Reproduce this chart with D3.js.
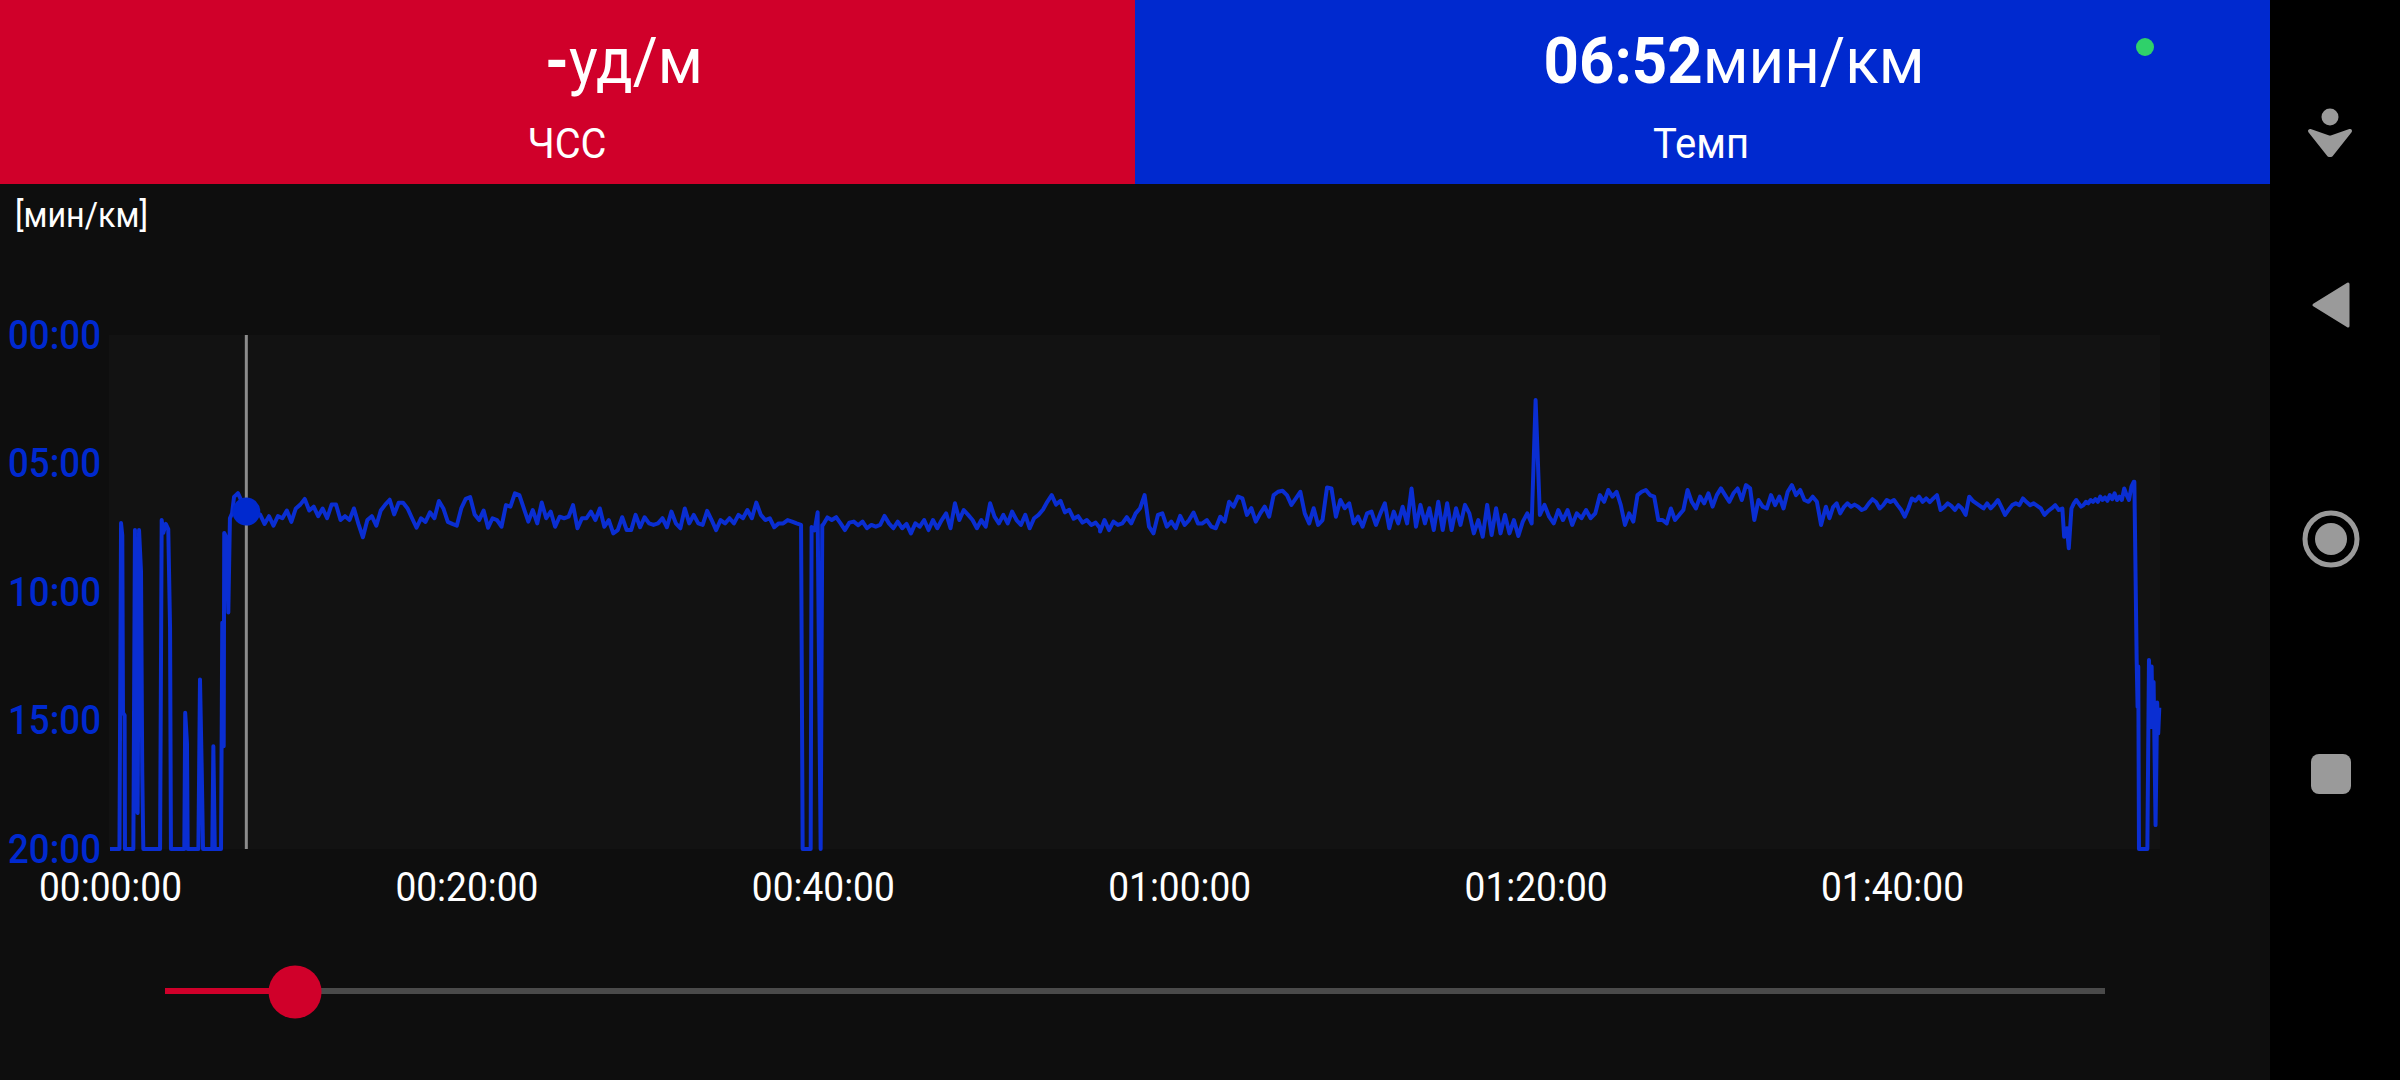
<!DOCTYPE html>
<html>
<head>
<meta charset="utf-8">
<title>Темп</title>
<script src="https://cdn.jsdelivr.net/npm/d3@7"></script>
<style>
  html, body { margin: 0; padding: 0; background: #000; }
  svg { display: block; font-family: Roboto, sans-serif; }
</style>
</head>
<body>
<div id="chart"></div>
<script>
// tick values and labels
const timeTicks = [0, 20, 40, 60, 80, 100];
const timeLabels = ["00:00:00", "00:20:00", "00:40:00", "01:00:00", "01:20:00", "01:40:00"];
const paceTicks = [0, 5, 10, 15, 20];
const paceLabels = ["00:00", "05:00", "10:00", "15:00", "20:00"];

// current position of the player, minutes into the run / pace in min per km
const cursorTime = 7.65;
const cursorPace = 6.87;

// irregular parts of the trace: time in minutes, pace in min/km
const warmupTimes = [0, 0.53, 0.62, 0.69, 0.73, 0.82, 0.84, 1.31, 1.40, 1.46, 1.55, 1.63, 1.74, 1.81, 1.87, 2.81, 2.90, 2.99, 3.13, 3.27, 3.37, 3.42, 4.17, 4.22, 4.32, 4.36, 4.96, 5.05, 5.15, 5.22, 5.74, 5.80, 5.88, 6.23, 6.30, 6.38, 6.41, 6.55, 6.64, 6.73, 6.85, 6.96, 7.18, 7.41, 7.63, 7.86, 8.14];
const warmupPace = [20, 20, 7.32, 7.8, 14.7, 14.8, 20, 20, 7.59, 18.4, 18.6, 7.59, 9.2, 17.0, 20, 20, 7.2, 7.7, 7.35, 7.55, 11.4, 20, 20, 14.7, 15.9, 20, 20, 13.4, 17.0, 20, 20, 16.0, 20, 20, 11.2, 16.0, 7.7, 7.9, 10.8, 7.13, 6.94, 6.3, 6.15, 6.5, 6.87, 6.9, 7.0];

const gapTimes = [38.87, 39.32, 39.37, 39.54, 39.71, 39.88, 39.97];
const gapPace = [20, 20, 7.47, 7.6, 6.9, 20, 7.4];

const spikeTimes = [80.0];
const spikePace = [2.53];

const dipTimes = [109.66, 109.82, 109.92];
const dipPace = [7.85, 7.52, 8.30];

const finishTimes = [113.6, 113.73, 113.78, 113.82, 113.86, 114.33, 114.42, 114.51, 114.57, 114.62, 114.68, 114.79, 114.88, 114.94, 115.0];
const finishPace = [5.71, 12.65, 14.47, 12.9, 20, 20, 12.65, 15.25, 12.9, 15.25, 13.5, 19.07, 14.3, 15.5, 14.5];

// steady legs left to right at about one sample per 15 s
const legATimes = [8.42, 38.78];
const legA = [6.98, 7.35, 7.05, 7.42, 7.05, 7.13, 6.83, 7.27, 6.75, 6.60, 6.38, 6.83, 6.68, 7.05, 6.75, 7.13, 6.60, 6.60, 7.20, 7.05, 7.20, 6.75, 7.35, 7.87, 7.20, 7.05, 7.42, 6.83, 6.60, 6.41, 6.98, 6.53, 6.53, 6.75, 7.13, 7.50, 7.13, 7.27, 6.90, 7.13, 6.46, 6.75, 7.27, 7.35, 7.42, 6.75, 6.38, 6.31, 6.98, 7.20, 6.83, 7.50, 7.13, 7.20,
  7.46, 6.62, 6.68, 6.16, 6.23, 6.75, 7.26, 6.81, 7.33, 6.52, 7.13, 6.87, 7.46, 7.07, 7.13, 7.07, 6.62, 7.52, 7.13, 7.13, 6.87, 7.20, 6.75, 7.46, 7.20, 7.72, 7.59, 7.09, 7.59, 7.59, 7.00, 7.48, 7.09, 7.33, 7.39, 7.33, 7.13, 7.48, 6.87, 7.33, 7.52, 6.75, 7.33, 7.00, 7.33, 7.39, 6.84, 7.20, 7.59, 7.20, 7.33, 7.13, 7.33, 7.00, 7.13, 6.81, 7.13, 6.52, 7.00, 7.20, 7.13, 7.48, 7.33, 7.33, 7.20, 7.26, 7.33, 7.39];

const legBTimes = [40.01, 55.56];
const legB = [7.39, 7.10, 7.20, 7.09, 7.33, 7.59, 7.30, 7.26, 7.40, 7.26, 7.52, 7.39, 7.46, 7.39, 7.04, 7.33, 7.52, 7.26, 7.52, 7.35, 7.72, 7.33, 7.46, 7.20, 7.59, 7.20, 7.52, 7.20, 6.94, 7.52, 6.55, 7.20, 6.81, 7.00, 7.20, 7.52, 7.20, 7.46, 6.55, 7.07, 7.33, 7.00, 7.33, 6.87, 7.20, 7.39, 7.00, 7.52, 7.13, 7.00, 6.80, 6.49, 6.23, 6.60, 6.45, 6.90, 6.80, 7.15, 7.05, 7.30, 7.20, 7.39, 7.30, 7.52];

const legCTimes = [55.56, 79.78];
const legC = [7.65, 7.20, 7.59, 7.26, 7.39, 7.33, 7.09, 7.33, 6.94, 6.74, 6.23, 7.46, 7.72, 7.00, 6.94, 7.46, 7.26, 7.52, 7.04, 7.39, 7.20, 6.91, 7.33, 7.33, 7.20, 7.46, 7.52, 7.07, 7.26, 6.49, 6.68, 6.29, 6.36, 7.00, 6.74, 7.26, 6.94, 6.68, 7.07, 6.23, 6.10, 6.06, 6.23, 6.61, 6.36, 6.10, 6.94, 7.33, 6.74, 7.39, 7.20, 5.93, 5.97, 7.07, 6.42, 6.74, 6.55, 7.33, 7.07, 7.46, 6.94, 6.87, 7.39, 6.94, 6.55, 7.52, 6.87, 7.33, 6.68, 7.33, 5.97, 7.46, 6.61, 7.33, 6.74, 7.59, 6.49, 7.59, 6.55, 7.59, 6.74, 7.39, 6.61, 6.94, 7.72, 7.20, 7.85, 6.61, 7.78, 6.74, 7.72, 7.00, 7.72, 7.20, 7.82, 7.26, 6.94, 7.33];

const legDTimes = [80.24, 83.61];
const legD = [7.00, 6.61, 7.07, 7.33, 6.81, 7.20, 6.81, 7.39, 6.94, 7.13, 6.81, 7.13, 6.94, 6.23];

const legETimes = [83.61, 96.02];
const legE = [6.23, 6.49, 6.03, 6.29, 6.10, 6.62, 7.39, 6.94, 7.26, 6.23, 6.10, 6.03, 6.23, 6.29, 7.20, 7.20, 7.33, 6.75, 7.20, 7.00, 6.81, 6.03, 6.49, 6.75, 6.29, 6.55, 6.16, 6.68, 6.23, 5.97, 6.23, 6.49, 6.16, 5.97, 6.42, 5.84, 5.97, 7.20, 6.42, 6.68, 6.75, 6.23, 6.62, 6.29, 6.75, 6.10, 5.84, 6.23, 6.03, 6.42, 6.49, 6.29, 6.49, 7.39];

const legFTimes = [96.29, 109.56];
const legF = [6.68, 7.13, 6.70, 6.55, 6.94, 6.70, 6.55, 6.68, 6.60, 6.68, 6.81, 6.75, 6.55, 6.39, 6.50, 6.75, 6.62, 6.42, 6.50, 6.42, 6.62, 6.80, 7.07, 6.75, 6.36, 6.45, 6.29, 6.49, 6.36, 6.50, 6.36, 6.23, 6.81, 6.70, 6.55, 6.65, 6.81, 6.62, 6.75, 7.00, 6.29, 6.45, 6.55, 6.65, 6.75, 6.55, 6.75, 6.60, 6.42, 6.70, 7.00, 6.80, 6.62, 6.55, 6.62, 6.36, 6.50, 6.62, 6.55, 6.65, 6.75, 7.00, 6.85, 6.75, 6.62, 6.81, 6.75];

const legGTimes = [110.07, 113.57];
const legG = [6.75, 6.55, 6.42, 6.55, 6.68, 6.62, 6.49, 6.55, 6.42, 6.49, 6.39, 6.49, 6.29, 6.42, 6.32, 6.45, 6.23, 6.39, 6.16, 6.42, 6.29, 6.42, 5.97, 6.23, 6.42, 5.90, 5.71];

const RED = "#d0002a";
const BLUE = "#0029cf";
const width = 2400, height = 1080;
const plot = { left: 110, right: 2159.3, top: 335, bottom: 849 };

const svg = d3.select("#chart").append("svg")
  .attr("width", width)
  .attr("height", height);

// background panels
svg.append("rect").attr("width", width).attr("height", height).attr("fill", "#000");
svg.append("rect").attr("y", 184).attr("width", 2270).attr("height", height - 184).attr("fill", "#0e0e0e");
svg.append("rect").attr("width", 1135).attr("height", 184).attr("fill", RED);
svg.append("rect").attr("x", 1135).attr("width", 1135).attr("height", 184).attr("fill", BLUE);
svg.append("rect")
  .attr("x", plot.left - 1).attr("y", plot.top)
  .attr("width", 2161 - plot.left).attr("height", plot.bottom - plot.top)
  .attr("fill", "#121212");

// the screenshot's font is a bit narrower than Roboto, so texts get squeezed to their measured width
function squeeze(sel, w) {
  sel.attr("textLength", w).attr("lengthAdjust", "spacingAndGlyphs");
}

// header texts
function headerValue(x, bold, unit, w) {
  const t = svg.append("text")
    .attr("x", x).attr("y", 83)
    .attr("text-anchor", "middle")
    .attr("font-size", 65)
    .attr("fill", "#fff")
    .call(squeeze, w);
  t.append("tspan").attr("font-weight", 700).text(bold);
  t.append("tspan").text(unit);
}
headerValue(624, "-", "уд/м", 158);
headerValue(1734, "06:52", "мин/км", 381);

function headerLabel(x, y, label, w) {
  svg.append("text")
    .attr("x", x).attr("y", y)
    .attr("text-anchor", "middle")
    .attr("font-size", 42)
    .attr("fill", "#fff")
    .call(squeeze, w)
    .text(label);
}
headerLabel(567, 158, "ЧСС", 79);
headerLabel(1701, 158, "Темп", 96);

svg.append("circle").attr("cx", 2145).attr("cy", 47).attr("r", 9).attr("fill", "#2fd16a");

svg.append("text")
  .attr("x", 15).attr("y", 227)
  .attr("font-size", 35)
  .attr("fill", "#fff")
  .call(squeeze, 133)
  .text("[мин/км]");

// scales
const x = d3.scaleLinear().domain([0, 115]).range([plot.left, plot.right]);
const y = d3.scaleLinear().domain([0, 20]).range([plot.top, plot.bottom]);

// axes
const xAxis = d3.axisBottom(x)
  .tickValues(timeTicks)
  .tickFormat((d, i) => timeLabels[i])
  .tickSize(0)
  .tickPadding(23);
const yAxis = d3.axisLeft(y)
  .tickValues(paceTicks)
  .tickFormat((d, i) => paceLabels[i])
  .tickSize(0)
  .tickPadding(9);

const gX = svg.append("g")
  .attr("transform", "translate(0," + plot.bottom + ")")
  .call(xAxis);
gX.select(".domain").remove();
gX.selectAll("text")
  .attr("fill", "#fff")
  .attr("font-size", 41)
  .attr("font-family", "Roboto, sans-serif")
  .call(squeeze, 143);

const gY = svg.append("g")
  .attr("transform", "translate(" + plot.left + ",0)")
  .call(yAxis);
gY.select(".domain").remove();
gY.selectAll("text")
  .attr("fill", BLUE)
  .attr("font-size", 41)
  .attr("font-weight", 500)
  .attr("font-family", "Roboto, sans-serif")
  .call(squeeze, 93);

// turn a leg (first and last time plus its samples) into points
function legPoints(times, values) {
  const t = d3.scaleLinear().domain([0, values.length - 1]).range(times);
  return values.map((v, i) => [t(i), v]);
}
const pairs = (times, values) => times.map((t, i) => [t, values[i]]);

const series = [].concat(
  pairs(warmupTimes, warmupPace),
  legPoints(legATimes, legA),
  pairs(gapTimes, gapPace),
  legPoints(legBTimes, legB),
  legPoints(legCTimes, legC),
  pairs(spikeTimes, spikePace),
  legPoints(legDTimes, legD),
  legPoints(legETimes, legE),
  legPoints(legFTimes, legF),
  pairs(dipTimes, dipPace),
  legPoints(legGTimes, legG),
  pairs(finishTimes, finishPace)
);

const line = d3.line()
  .x(d => x(d[0]))
  .y(d => y(d[1]));

// cursor under the trace
svg.append("line")
  .attr("x1", x(cursorTime)).attr("x2", x(cursorTime))
  .attr("y1", plot.top).attr("y2", plot.bottom)
  .attr("stroke", "#8c8c8c")
  .attr("stroke-width", 3);

svg.append("path")
  .attr("d", line(series))
  .attr("fill", "none")
  .attr("stroke", "#0a2ed2")
  .attr("stroke-width", 4)
  .attr("stroke-linejoin", "round");

svg.append("circle")
  .attr("cx", x(cursorTime)).attr("cy", y(cursorPace))
  .attr("r", 14)
  .attr("fill", BLUE);

// playback slider
const slider = d3.scaleLinear().domain([0, 115]).range([165, 2105]);
const sliderY = 991;
svg.append("line")
  .attr("x1", slider(0)).attr("x2", slider(115))
  .attr("y1", sliderY).attr("y2", sliderY)
  .attr("stroke", "#4a4a4a").attr("stroke-width", 6);
svg.append("line")
  .attr("x1", slider(0)).attr("x2", slider(cursorTime))
  .attr("y1", sliderY).attr("y2", sliderY)
  .attr("stroke", RED).attr("stroke-width", 6);
svg.append("circle")
  .attr("cx", slider(cursorTime) + 1).attr("cy", sliderY + 1)
  .attr("r", 26.5)
  .attr("fill", RED);

// navigation bar icons
const nav = svg.append("g").attr("fill", "#9a9a9a");
nav.append("circle").attr("cx", 2330).attr("cy", 117).attr("r", 8.5);
nav.append("path")
  .attr("d", "M2310,131 L2330,138 L2350,131 L2331,155 L2329,155 Z")
  .attr("stroke", "#9a9a9a").attr("stroke-width", 4).attr("stroke-linejoin", "round");
nav.append("path")
  .attr("d", "M2314,305 L2348,284 L2348,326 Z")
  .attr("stroke", "#9a9a9a").attr("stroke-width", 3).attr("stroke-linejoin", "round");
nav.append("circle").attr("cx", 2331).attr("cy", 539).attr("r", 26)
  .attr("fill", "none").attr("stroke", "#9a9a9a").attr("stroke-width", 5);
nav.append("circle").attr("cx", 2331).attr("cy", 539).attr("r", 16);
nav.append("rect").attr("x", 2311).attr("y", 754).attr("width", 40).attr("height", 40).attr("rx", 8);
</script>
</body>
</html>
